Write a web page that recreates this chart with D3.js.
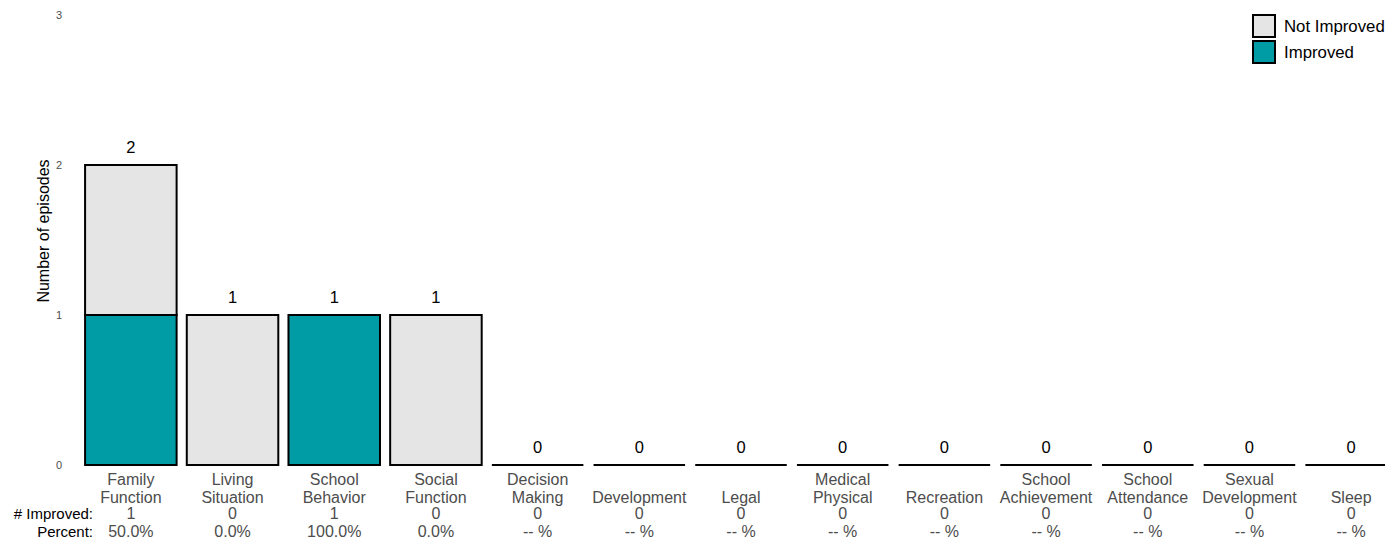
<!DOCTYPE html>
<html>
<head>
<meta charset="utf-8">
<script src="https://cdn.jsdelivr.net/npm/d3@7"></script>
<style>
  body { margin: 0; background: #fff; font-family: "Liberation Sans", Arial, sans-serif; }
  svg text { font-family: "Liberation Sans", Arial, sans-serif; }
</style>
</head>
<body>
<svg id="chart" width="1385" height="544"></svg>
<script>
const categories = [
  ["Family", "Function"], ["Living", "Situation"], ["School", "Behavior"], ["Social", "Function"],
  ["Decision", "Making"], ["Development"], ["Legal"], ["Medical", "Physical"], ["Recreation"],
  ["School", "Achievement"], ["School", "Attendance"], ["Sexual", "Development"], ["Sleep"]
];
const improved    = [1, 0, 1, 0, 0, 0, 0, 0, 0, 0, 0, 0, 0];
const notImproved = [1, 1, 0, 1, 0, 0, 0, 0, 0, 0, 0, 0, 0];
const yTicks = [0, 1, 2, 3];
const legendItems = ["Not Improved", "Improved"];
const colors = { "Not Improved": "#e5e5e5", "Improved": "#009ca6" };

const data = categories.map((c, i) => ({
  key: c.join(" "), lines: c, improved: improved[i], notImproved: notImproved[i],
  total: improved[i] + notImproved[i]
}));

const svg = d3.select("#chart");

const x = d3.scaleBand()
  .domain(data.map(d => d.key))
  .range([80, 1402])
  .paddingInner(0.1)
  .paddingOuter(0.05);

const y = d3.scaleLinear().domain([0, 3]).range([465, 15]);

// y axis ticks (no line)
svg.append("g").selectAll("text")
  .data(yTicks).enter().append("text")
  .attr("x", 62).attr("y", d => y(d))
  .attr("dy", "0.35em")
  .attr("text-anchor", "end")
  .attr("font-size", 11)
  .attr("fill", "#4d4d4d")
  .text(d => d);

svg.append("text")
  .attr("transform", "translate(49,231) rotate(-90)")
  .attr("text-anchor", "middle")
  .attr("font-size", 16)
  .attr("fill", "#000")
  .text("Number of episodes");

// stacked bars
const bars = svg.append("g");
data.forEach(d => {
  const x0 = x(d.key), w = x.bandwidth();
  if (d.total === 0) {
    bars.append("line")
      .attr("x1", x0).attr("x2", x0 + w)
      .attr("y1", y(0)).attr("y2", y(0))
      .attr("stroke", "#000").attr("stroke-width", 2);
  } else {
    const segs = [
      { v0: 0, v1: d.improved, c: colors["Improved"] },
      { v0: d.improved, v1: d.total, c: colors["Not Improved"] }
    ];
    segs.filter(s => s.v1 > s.v0).forEach(s => {
      bars.append("rect")
        .attr("x", x0).attr("width", w)
        .attr("y", y(s.v1)).attr("height", y(s.v0) - y(s.v1))
        .attr("fill", s.c).attr("stroke", "#000").attr("stroke-width", 2);
    });
  }
  bars.append("text")
    .attr("x", x0 + w / 2).attr("y", y(d.total) - 12)
    .attr("text-anchor", "middle")
    .attr("font-size", 16.5)
    .attr("fill", "#000")
    .text(d.total);
});

// x labels
const lab = svg.append("g").attr("font-size", 16).attr("fill", "#4d4d4d");
data.forEach(d => {
  const cx = x(d.key) + x.bandwidth() / 2;
  const lines = d.lines.length === 2 ? d.lines : ["", d.lines[0]];
  lines.forEach((t, j) => {
    lab.append("text").attr("x", cx).attr("y", 485 + j * 17.5)
      .attr("text-anchor", "middle").text(t);
  });
  lab.append("text").attr("x", cx).attr("y", 519)
    .attr("text-anchor", "middle").text(d.improved);
  lab.append("text").attr("x", cx).attr("y", 537)
    .attr("text-anchor", "middle")
    .text(d.total === 0 ? "-- %" : (100 * d.improved / d.total).toFixed(1) + "%");
});

svg.append("text").attr("x", 93).attr("y", 519).attr("text-anchor", "end")
  .attr("font-size", 15).attr("fill", "#000").text("# Improved:");
svg.append("text").attr("x", 93).attr("y", 537).attr("text-anchor", "end")
  .attr("font-size", 15).attr("fill", "#000").text("Percent:");

// legend
const legend = svg.append("g").attr("transform", "translate(1252,14)");
legendItems.forEach((k, i) => {
  const g = legend.append("g").attr("transform", `translate(0,${i * 26})`);
  g.append("rect").attr("x", 1).attr("y", 1).attr("width", 22).attr("height", 22)
    .attr("fill", colors[k]).attr("stroke", "#000").attr("stroke-width", 2);
  g.append("text").attr("x", 32).attr("y", 12).attr("dy", "0.35em")
    .attr("font-size", 16.8).attr("fill", "#000").text(k);
});
</script>
</body>
</html>
